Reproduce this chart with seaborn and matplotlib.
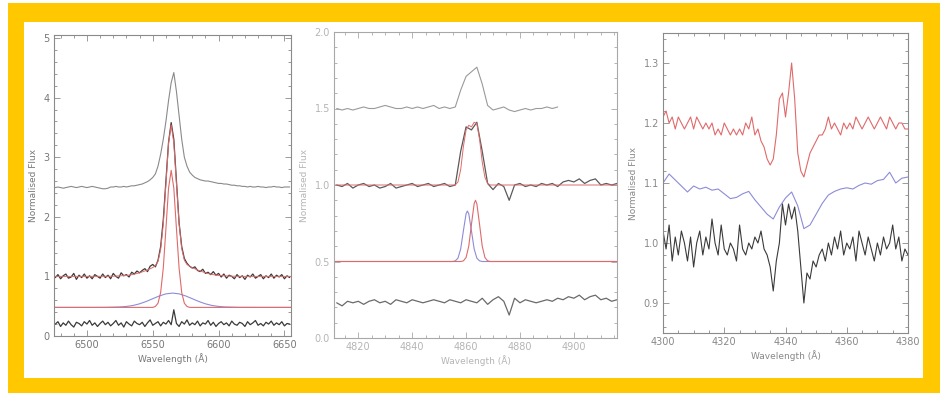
import numpy as np
import matplotlib
matplotlib.use("Agg")
import matplotlib.pyplot as plt
import seaborn as sns
from matplotlib.patches import Rectangle
from matplotlib.ticker import MultipleLocator, FormatStrFormatter

# ---------------- H-alpha panel ----------------
ha_wave = np.arange(6476, 6656, 2)
ha_top = [2.49, 2.50, 2.49, 2.48, 2.49, 2.50, 2.51, 2.50, 2.49, 2.50, 2.51, 2.50, 2.49, 2.50, 2.51, 2.50, 2.49, 2.48,
          2.47, 2.47, 2.48, 2.50, 2.50, 2.51, 2.50, 2.50, 2.51, 2.50, 2.51, 2.52, 2.52, 2.53, 2.54,
          2.55, 2.57, 2.59, 2.62, 2.66, 2.72, 2.85,
          3.05, 3.30, 3.60, 3.95, 4.25, 4.42, 4.10,
          3.70, 3.30, 3.00, 2.85, 2.75, 2.70,
          2.66, 2.64, 2.62, 2.61, 2.60, 2.60, 2.59, 2.58, 2.57, 2.56,
          2.56, 2.55, 2.55, 2.54, 2.53, 2.53, 2.52, 2.52, 2.51, 2.51, 2.50, 2.51, 2.50, 2.50, 2.51, 2.50, 2.50, 2.49,
          2.50, 2.50, 2.51, 2.50, 2.50, 2.49, 2.50, 2.50, 2.50]
ha_obs = [0.98, 1.03, 0.96, 1.01, 1.04, 0.97, 0.99, 1.05, 0.95, 1.02, 0.98, 1.04, 0.97, 1.01, 0.96, 1.03, 1.00, 0.97,
          1.04, 0.98, 1.02, 0.96, 1.05, 1.00, 0.97, 1.06, 1.01, 1.03, 0.99, 1.07, 1.04, 1.09, 1.06,
          1.10, 1.13, 1.08, 1.17, 1.20, 1.16, 1.27,
          1.50, 1.95, 2.60, 3.25, 3.58, 3.30, 2.60,
          1.90, 1.50, 1.30, 1.22, 1.17, 1.14,
          1.16, 1.10, 1.08, 1.12, 1.05, 1.07, 1.03, 1.08, 1.02, 1.05,
          0.99, 1.04, 0.97, 1.02, 1.00, 0.96, 1.03, 0.98, 1.01, 0.95, 1.02, 0.99, 1.04, 0.97, 1.00, 1.03, 0.96, 1.01,
          0.98, 1.04, 0.97, 1.02, 0.99, 1.03, 0.96, 1.01, 0.98]
ha_res = [0.20, 0.24, 0.16, 0.22, 0.18, 0.25, 0.19, 0.15, 0.23, 0.21, 0.17, 0.24, 0.20, 0.26, 0.18, 0.22, 0.16, 0.21,
          0.25, 0.19, 0.23, 0.17, 0.21, 0.26, 0.18, 0.22, 0.15, 0.24, 0.20, 0.17, 0.25, 0.21, 0.19,
          0.23, 0.16, 0.22, 0.27, 0.18, 0.21, 0.24,
          0.17, 0.23, 0.20, 0.26, 0.19, 0.44, 0.21,
          0.16, 0.24, 0.20, 0.27, 0.18, 0.22,
          0.19, 0.25, 0.17, 0.22, 0.20, 0.26, 0.18, 0.23, 0.16, 0.21,
          0.24, 0.19, 0.22, 0.17, 0.25, 0.20, 0.18, 0.23, 0.21, 0.16, 0.24, 0.19, 0.22, 0.26, 0.18, 0.21, 0.17, 0.23,
          0.20, 0.25, 0.18, 0.22, 0.19, 0.24, 0.17, 0.21, 0.20]
ha_fit_wave = [6475, 6500, 6520, 6530, 6535, 6540, 6545, 6550, 6552, 6554, 6556, 6558, 6560, 6562, 6564,
               6566, 6568, 6570, 6572, 6574, 6576, 6580, 6585, 6590, 6595, 6600, 6610, 6620, 6655]
ha_fit = [1.00, 1.00, 1.003, 1.016, 1.032, 1.060, 1.099, 1.148, 1.181, 1.253, 1.45, 1.875, 2.547, 3.235, 3.54,
          3.24, 2.555, 1.887, 1.465, 1.27, 1.199, 1.146, 1.099, 1.060, 1.032, 1.016, 1.003, 1.00, 1.00]
ha_broad_wave = [6475, 6490, 6505, 6515, 6525, 6530, 6535, 6540, 6545, 6550, 6555, 6560, 6565,
                 6570, 6575, 6580, 6585, 6590, 6595, 6600, 6605, 6615, 6630, 6655]
ha_broad = [0.48, 0.48, 0.48, 0.481, 0.487, 0.496, 0.512, 0.540, 0.579, 0.626, 0.672, 0.707, 0.720,
            0.707, 0.672, 0.626, 0.579, 0.540, 0.512, 0.496, 0.487, 0.481, 0.48, 0.48]
ha_narrow_wave = [6475, 6540, 6550, 6552, 6554, 6556, 6558, 6560, 6562, 6564, 6566, 6568, 6570,
                  6572, 6574, 6576, 6578, 6590, 6655]
ha_narrow = [0.48, 0.48, 0.48, 0.496, 0.55, 0.73, 1.14, 1.80, 2.48, 2.78, 2.48, 1.80, 1.14,
             0.73, 0.55, 0.496, 0.48, 0.48, 0.48]

# ---------------- H-beta panel ----------------
hb_top_wave = np.arange(4812, 4896, 2)
hb_top = [1.50, 1.49, 1.50, 1.49, 1.50, 1.51, 1.50, 1.50, 1.51, 1.52, 1.51, 1.50, 1.50, 1.51, 1.50, 1.51,
          1.50, 1.51, 1.52, 1.50, 1.51, 1.50, 1.51, 1.62, 1.71, 1.74, 1.77, 1.66, 1.52, 1.49, 1.50, 1.51,
          1.49, 1.48, 1.49, 1.50, 1.49, 1.50, 1.50, 1.51, 1.50, 1.51]
hb_wave = np.arange(4812, 4918, 2)
hb_obs = [1.00, 0.99, 1.01, 0.98, 1.00, 1.01, 0.99, 1.00, 0.98, 0.99, 1.01, 0.98, 0.99, 1.00, 1.01, 0.99,
          1.00, 1.01, 0.99, 1.00, 1.01, 0.99, 1.00, 1.22, 1.38, 1.36, 1.41, 1.22, 1.01, 0.97, 1.01, 0.99,
          0.90, 1.00, 1.01, 0.99, 1.00, 0.99, 1.01, 1.00, 1.01, 0.99, 1.02, 1.03, 1.02, 1.04, 1.01, 1.03,
          1.04, 1.00, 1.01, 1.00, 1.01]
hb_res = [0.23, 0.21, 0.24, 0.23, 0.24, 0.22, 0.24, 0.25, 0.23, 0.24, 0.22, 0.25, 0.24, 0.23, 0.25, 0.24,
          0.23, 0.24, 0.25, 0.24, 0.23, 0.25, 0.24, 0.23, 0.25, 0.24, 0.23, 0.26, 0.22, 0.25, 0.27, 0.24,
          0.15, 0.26, 0.23, 0.25, 0.24, 0.23, 0.24, 0.25, 0.24, 0.26, 0.25, 0.27, 0.26, 0.28, 0.25, 0.27,
          0.28, 0.25, 0.26, 0.24, 0.25]
hb_fit_wave = [4811, 4855, 4856, 4857, 4858, 4859, 4860, 4861, 4862, 4863, 4864, 4865, 4866, 4867, 4868, 4869, 4916]
hb_fit = [1.00, 1.00, 1.00, 1.02, 1.10, 1.25, 1.36, 1.39, 1.38, 1.41, 1.40, 1.30, 1.15, 1.05, 1.01, 1.00, 1.00]
hb_blue_wave = [4811, 4855, 4856, 4857, 4858, 4859, 4860, 4860.5, 4861, 4862, 4863, 4864, 4865, 4866, 4916]
hb_blue = [0.5, 0.500, 0.504, 0.522, 0.582, 0.700, 0.812, 0.830, 0.812, 0.700, 0.582, 0.522, 0.504, 0.500, 0.5]
hb_red_wave = [4811, 4858, 4859, 4860, 4861, 4862, 4863, 4863.5, 4864, 4865, 4866, 4867, 4868, 4869, 4916]
hb_red = [0.5, 0.500, 0.504, 0.526, 0.600, 0.743, 0.878, 0.90, 0.878, 0.743, 0.600, 0.526, 0.504, 0.500, 0.5]

# ---------------- H-gamma panel ----------------
hg_wave = np.arange(4300, 4381, 1)
hg_red = [1.21, 1.22, 1.20, 1.21, 1.19, 1.21, 1.20, 1.19, 1.20, 1.21, 1.19, 1.21, 1.20, 1.19, 1.20, 1.19,
          1.20, 1.18, 1.19, 1.18, 1.20, 1.19, 1.18, 1.19, 1.18, 1.19, 1.18, 1.20, 1.19, 1.21, 1.18, 1.19,
          1.17, 1.16, 1.14, 1.13, 1.14, 1.18, 1.24, 1.25, 1.21, 1.25, 1.30, 1.24, 1.15, 1.12, 1.11, 1.13,
          1.15, 1.16, 1.17, 1.18, 1.18, 1.19, 1.21, 1.19, 1.20, 1.19, 1.18, 1.20, 1.19, 1.20, 1.19, 1.21,
          1.20, 1.19, 1.20, 1.21, 1.20, 1.19, 1.20, 1.21, 1.20, 1.19, 1.21, 1.20, 1.19, 1.20, 1.20, 1.19,
          1.19]
hg_black = [1.02, 0.99, 1.03, 0.97, 1.01, 0.98, 1.02, 1.00, 0.97, 1.01, 0.96, 1.00, 1.02, 0.98, 1.01, 0.99,
            1.04, 1.00, 0.98, 1.03, 0.99, 0.98, 1.00, 0.99, 0.97, 1.03, 0.99, 0.98, 1.00, 0.99, 1.01, 1.00,
            1.02, 0.99, 0.98, 0.96, 0.92, 0.97, 1.00, 1.065, 1.03, 1.065, 1.04, 1.06, 1.02, 0.96, 0.90, 0.95,
            0.94, 0.97, 0.96, 0.98, 0.99, 0.97, 1.00, 0.98, 1.01, 0.99, 1.02, 0.98, 1.00, 0.99, 1.01, 0.97,
            1.02, 1.00, 0.98, 1.01, 0.99, 0.97, 1.00, 0.98, 1.01, 0.99, 1.00, 1.03, 0.99, 1.01, 0.97, 0.99,
            0.98]
hg_blue_wave = np.arange(4300, 4382, 2)
hg_blue = [1.100, 1.115, 1.105, 1.095, 1.085, 1.095, 1.090, 1.093, 1.088, 1.090, 1.082, 1.074, 1.076, 1.082,
           1.086, 1.072, 1.060, 1.048, 1.040, 1.060, 1.075, 1.085, 1.062, 1.024, 1.030, 1.048, 1.066, 1.080,
           1.086, 1.090, 1.092, 1.090, 1.096, 1.100, 1.098, 1.104, 1.106, 1.118, 1.100, 1.108, 1.110]

assert len(ha_top) == len(ha_obs) == len(ha_res) == len(ha_wave)
assert len(hb_top) == len(hb_top_wave) and len(hb_obs) == len(hb_res) == len(hb_wave)
assert len(hg_red) == len(hg_black) == len(hg_wave) and len(hg_blue) == len(hg_blue_wave)

RED = "#e06a6a"
BLUE = "#8c8cd8"

sns.set_style("white")
plt.rcParams["font.family"] = ["DejaVu Sans"]

fig = plt.figure(figsize=(9.47, 3.93), dpi=100)
fig.patches.append(Rectangle((8 / 947, 0), 932 / 947, 390 / 393, transform=fig.transFigure,
                             facecolor="#ffc800", edgecolor="none", zorder=-2))
fig.patches.append(Rectangle((24 / 947, 15 / 393), 899 / 947, 356 / 393, transform=fig.transFigure,
                             facecolor="white", edgecolor="none", zorder=-1))


def idl_axes(ax, xmaj, xmin, ymaj, ymin, tcol, fcol):
    # IDL-like frame: inward ticks on all four sides
    ax.xaxis.set_major_locator(MultipleLocator(xmaj))
    ax.xaxis.set_minor_locator(MultipleLocator(xmin))
    ax.yaxis.set_major_locator(MultipleLocator(ymaj))
    ax.yaxis.set_minor_locator(MultipleLocator(ymin))
    ax.tick_params(which="both", direction="in", bottom=True, left=True, top=True, right=True,
                   colors=fcol, labelcolor=tcol, labelsize=7, width=0.6, pad=3)
    ax.tick_params(which="major", length=4.5)
    ax.tick_params(which="minor", length=2.2)
    for s in ax.spines.values():
        s.set_color(fcol)
        s.set_linewidth(0.8)
    ax.set_facecolor("white")
    ax.set_xlabel("Wavelength (Å)", fontsize=6.5, color=tcol, labelpad=2)
    ax.set_ylabel("Normalised Flux", fontsize=6.5, color=tcol, labelpad=4)


def line(ax, x, y, c, lw=0.8):
    sns.lineplot(x=x, y=y, ax=ax, color=c, linewidth=lw, estimator=None, sort=False)


# Panel 1
ax1 = fig.add_axes([54 / 947, 57 / 393, 237 / 947, 301 / 393])
line(ax1, ha_wave, ha_top, "#8a8a8a")
line(ax1, ha_wave, ha_obs, "#3a3a3a", 0.9)
line(ax1, ha_fit_wave, ha_fit, RED, 0.7)
line(ax1, ha_broad_wave, ha_broad, BLUE)
line(ax1, ha_narrow_wave, ha_narrow, RED)
line(ax1, ha_wave, ha_res, "#3a3a3a", 0.9)
ax1.set_xlim(6475, 6655)
ax1.set_ylim(0, 5.05)
idl_axes(ax1, 50, 10, 1, 0.2, "#777777", "#8a8a8a")

# Panel 2
ax2 = fig.add_axes([334 / 947, 55 / 393, 283 / 947, 306 / 393])
line(ax2, hb_top_wave, hb_top, "#9a9a9a")
line(ax2, hb_wave, hb_obs, "#5a5a5a", 0.9)
line(ax2, hb_fit_wave, hb_fit, RED, 0.7)
line(ax2, hb_blue_wave, hb_blue, BLUE)
line(ax2, hb_red_wave, hb_red, RED)
line(ax2, hb_wave, hb_res, "#6a6a6a", 0.9)
ax2.set_xlim(4811, 4916)
ax2.set_ylim(0, 2.0)
idl_axes(ax2, 20, 5, 0.5, 0.1, "#b5b5b5", "#a8a8a8")
ax2.yaxis.set_major_formatter(FormatStrFormatter("%.1f"))

# Panel 3
ax3 = fig.add_axes([663 / 947, 60 / 393, 245 / 947, 300 / 393])
line(ax3, hg_wave, hg_red, RED)
line(ax3, hg_blue_wave, hg_blue, BLUE)
line(ax3, hg_wave, hg_black, "#3a3a3a")
ax3.set_xlim(4300, 4380)
ax3.set_ylim(0.85, 1.35)
idl_axes(ax3, 20, 5, 0.1, 0.02, "#888888", "#8a8a8a")
ax3.yaxis.set_major_formatter(FormatStrFormatter("%.1f"))

fig.savefig("out.png", dpi=100)
